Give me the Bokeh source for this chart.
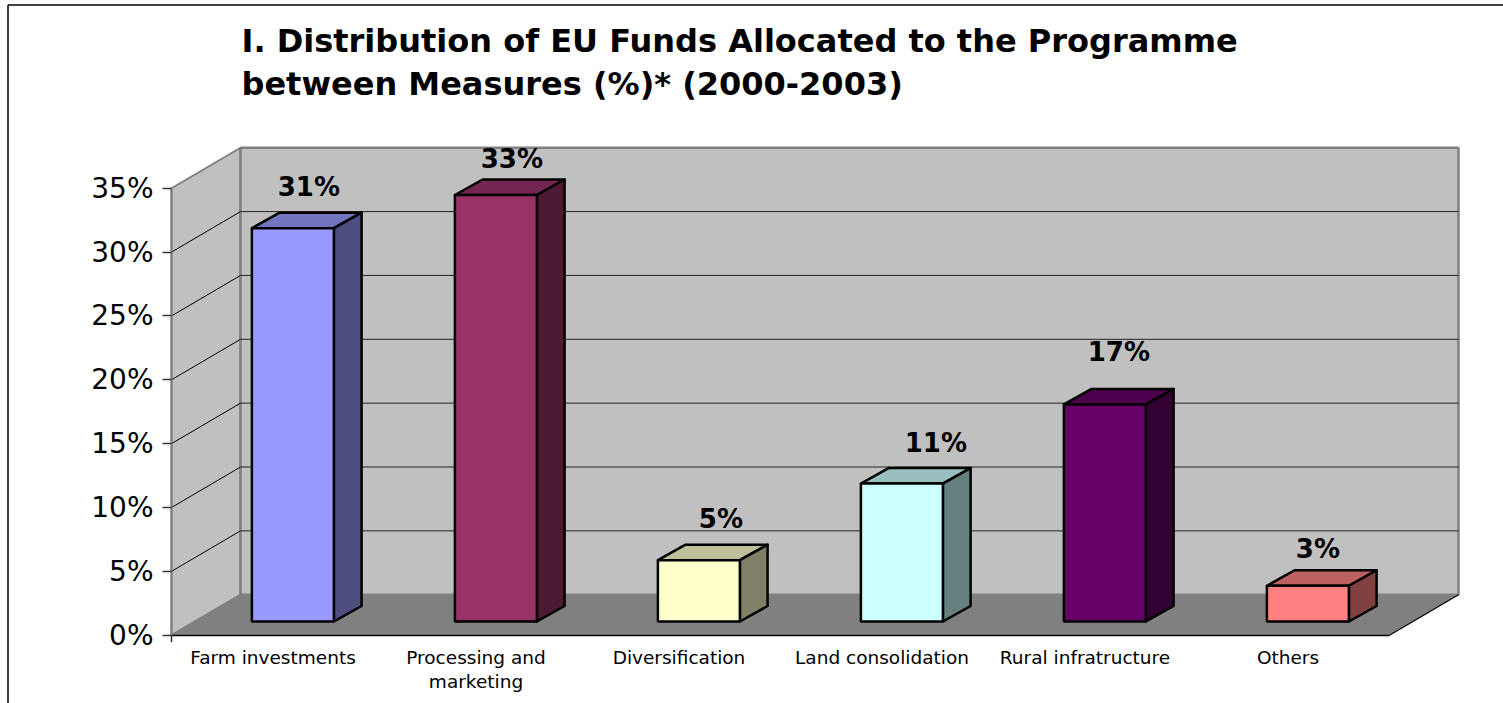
from bokeh.plotting import figure
from bokeh.models import LinearAxis, FixedTicker, Range1d, Label, PrintfTickFormatter
from bokeh.core.properties import value
from bokeh.embed import file_html
from bokeh.resources import INLINE

TITLE = "I. Distribution of EU Funds Allocated to the Programme\nbetween Measures (%)* (2000-2003)"
categories = ["Farm investments", "Processing and\nmarketing", "Diversification",
              "Land consolidation", "Rural infratructure", "Others"]
shares = [30.8, 33.4, 4.8, 10.8, 17.0, 2.8]
y_ticks = [0, 5, 10, 15, 20, 25, 30, 35]

face_colors = ["#9999FF", "#993366", "#FFFFCC", "#CCFFFF", "#660066", "#FF8080"]
top_colors = ["#7373BF", "#732650", "#BFBF99", "#99BFBF", "#4D004D", "#BF6060"]
side_colors = ["#4D4D80", "#4D1A33", "#808066", "#668080", "#330033", "#804040"]
label_nudge_x = [16, 16, 22, 34, 14, 10]
label_nudge_y = [41, 36, 41, 41, 52, 37]

PX_X = 203.0     # pixels per category
PX_Y = 12.77     # pixels per percent
AX_X, AX_Y = 171.0, 634.7   # canvas position of the axes' origin
W, H = 1503, 703
WALL_DX, WALL_DY = 69 / PX_X, 40.5 / PX_Y
BAR_W = 82 / PX_X
BAR_SHIFT, BAR_LIFT = 0.098, 13.7 / PX_Y
DEPTH_DX, DEPTH_DY = 27.7 / PX_X, 15.5 / PX_Y
FONT = value("DejaVu Sans")

p = figure(width=W, height=H, output_backend="svg", toolbar_location=None,
           x_axis_location=None, y_axis_location=None, min_border=0,
           x_range=Range1d(-AX_X / PX_X, (W - AX_X) / PX_X),
           y_range=Range1d((AX_Y - H) / PX_Y, AX_Y / PX_Y),
           background_fill_color="white", border_fill_color="white",
           outline_line_color=None)
p.grid.visible = False

# Chart-area border (top and left only, as in the reference)
bx = (7.5 - AX_X) / PX_X
by = (AX_Y - 4.5) / PX_Y
p.segment([bx, bx], [p.y_range.start, by], [bx, p.x_range.end], [by, by],
          line_color="black", line_width=1.5)

n = len(categories)
# Walls and floor
p.patch([0, WALL_DX, WALL_DX, 0], [0, WALL_DY, 35 + WALL_DY, 35],
        fill_color="#C0C0C0", line_color="#808080", line_width=2)
p.patch([WALL_DX, n + WALL_DX, n + WALL_DX, WALL_DX], [WALL_DY, WALL_DY, 35 + WALL_DY, 35 + WALL_DY],
        fill_color="#C0C0C0", line_color="#808080", line_width=2.5)
p.patch([0, n, n + WALL_DX, WALL_DX], [0, 0, WALL_DY, WALL_DY], fill_color="#808080", line_color=None)
p.segment([n], [0], [n + WALL_DX], [WALL_DY], line_color="black", line_width=1.2)

# Gridlines
gv = y_ticks[1:-1]
p.segment([0] * len(gv), gv, [WALL_DX] * len(gv), [v + WALL_DY for v in gv], line_color="black", line_width=1)
p.segment([WALL_DX] * len(gv), [v + WALL_DY for v in gv], [n + WALL_DX] * len(gv), [v + WALL_DY for v in gv],
          line_color="#222222", line_width=1)
p.segment([0], [0], [0], [-7 / PX_Y], line_color="#333333", line_width=1.5)

# 3-D bars
lefts = [i + 0.5 - BAR_W / 2 + BAR_SHIFT for i in range(n)]
rights = [l + BAR_W for l in lefts]
tops = [v + BAR_LIFT for v in shares]
bottoms = [BAR_LIFT] * n
p.patches([[l, l + DEPTH_DX, r + DEPTH_DX, r] for l, r in zip(lefts, rights)],
          [[t, t + DEPTH_DY, t + DEPTH_DY, t] for t in tops],
          fill_color=top_colors, line_color="black", line_width=2.5, line_join="round")
p.patches([[r, r + DEPTH_DX, r + DEPTH_DX, r] for r in rights],
          [[b, b + DEPTH_DY, t + DEPTH_DY, t] for b, t in zip(bottoms, tops)],
          fill_color=side_colors, line_color="black", line_width=2.5, line_join="round")
p.quad(left=lefts, right=rights, bottom=bottoms, top=tops,
       fill_color=face_colors, line_color="black", line_width=2.5)

# Value labels
p.text([(l + r) / 2 for l, r in zip(lefts, rights)], tops, text=[f"{round(v)}%" for v in shares],
       x_offset=label_nudge_x, y_offset=[-d for d in label_nudge_y],
       text_font=FONT, text_font_style="bold", text_font_size="26px", text_color="black",
       text_align="center", text_baseline="middle")

# Axes
ya = LinearAxis(fixed_location=0, ticker=FixedTicker(ticks=y_ticks), bounds=(0, 35),
                formatter=PrintfTickFormatter(format="%d%%"))
ya.axis_line_color = "#808080"
ya.axis_line_width = 2
ya.major_tick_out = 9
ya.major_tick_in = 0
ya.major_tick_line_color = "#333333"
ya.major_tick_line_width = 1.5
ya.minor_tick_line_color = None
ya.major_label_standoff = 9
ya.major_label_text_font = "DejaVu Sans"
ya.major_label_text_font_size = "28px"
ya.major_label_text_color = "black"
p.add_layout(ya, "left")

xa = LinearAxis(fixed_location=0, ticker=FixedTicker(ticks=[i + 0.5 for i in range(n)]), bounds=(0, n),
                major_label_overrides={i + 0.5: c for i, c in enumerate(categories)})
xa.axis_line_color = "black"
xa.axis_line_width = 1.5
xa.major_tick_line_color = None
xa.minor_tick_line_color = None
xa.major_label_standoff = 6
xa.major_label_text_font = "DejaVu Sans"
xa.major_label_text_font_size = "18.5px"
xa.major_label_text_color = "black"
xa.major_label_text_line_height = 1.15
p.add_layout(xa, "below")

# Title
p.add_layout(Label(x=(241 - AX_X) / PX_X, y=(AX_Y - 103) / PX_Y, text=TITLE,
                   text_font="DejaVu Sans", text_font_style="bold", text_font_size="32px",
                   text_color="black", text_line_height=1.14,
                   text_align="left", text_baseline="bottom"))

open("out.html", "w").write(file_html(p, INLINE))
